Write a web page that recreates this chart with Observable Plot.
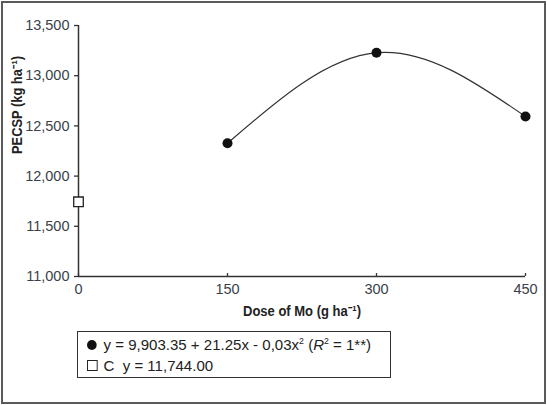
<!DOCTYPE html>
<html><head><meta charset="utf-8">
<script src="https://cdn.jsdelivr.net/npm/d3@7"></script>
<script src="https://cdn.jsdelivr.net/npm/@observablehq/plot@0.6"></script>
<style>
body{margin:0;background:#fff;}
#wrap{position:relative;width:547px;height:405px;overflow:hidden;font-family:"Liberation Sans",Arial,sans-serif;}
#frame{position:absolute;left:1px;top:1px;width:541px;height:399px;border:2px solid #5a5a5a;pointer-events:none;box-sizing:content-box;}
#chart{position:absolute;left:0;top:0;}
#legend{position:absolute;left:77px;top:331px;width:314px;height:47px;border:1.5px solid #333;color:#222;box-sizing:border-box;}
.row{position:absolute;left:9px;white-space:nowrap;font-size:15.5px;transform:scaleX(0.97);transform-origin:0 50%;}
.row sup{font-size:9px;vertical-align:6px;line-height:0;}
.dot{display:inline-block;width:10px;height:10px;border-radius:50%;background:#111;margin-right:7px;vertical-align:0px;}
.sq{display:inline-block;width:9px;height:9px;border:1.3px solid #222;background:#fff;margin-right:6px;vertical-align:0px;}
</style>
</head><body>
<div id="wrap">
  <div id="chart"></div>
  <div id="legend">
    <div class="row" style="top:4px"><span class="dot"></span>y = 9,903.35 + 21.25x - 0,03x<sup>2</sup> (<i>R</i><sup>2</sup> = 1**)</div>
    <div class="row" style="top:25px"><span class="sq"></span>C&nbsp; y = 11,744.00</div>
  </div>
  <div id="frame"></div>
</div>
<script>
const doses = [150, 300, 450];
const pecsp = [12327, 13229, 12594];
const controlDose = [0];
const controlValue = [11744];
const xTicks = [0, 150, 300, 450];
const yTicks = [11000, 11500, 12000, 12500, 13000, 13500];
const yTitle = "PECSP (kg ha\u207B\u00B9)";
const xTitle = "Dose of Mo (g ha\u207B\u00B9)";

const treat = doses.map((d, i) => ({x: d, y: pecsp[i]}));
const control = controlDose.map((d, i) => ({x: d, y: controlValue[i]}));

const font = '"Liberation Sans",Arial,sans-serif';
const H = 320, mT = 25, mB = 44;
const chart = Plot.plot({
  width: 547, height: H,
  marginLeft: 78, marginRight: 22, marginTop: mT, marginBottom: mB,
  style: {fontFamily: font, background: "#fff", color: "#333"},
  x: {domain: [0, 450]},
  y: {domain: [11000, 13500]},
  marks: [
    Plot.axisY({ticks: yTicks, tickSize: 4, tickPadding: 5, tickFormat: d3.format(","), fontSize: 14.5, label: null, stroke: "#333", strokeWidth: 1.3, fill: "#3a3f4a"}),
    Plot.axisX({ticks: xTicks, tickSize: 0, tickPadding: 7, fontSize: 14.5, label: null, fill: "#3a3f4a"}),
    Plot.ruleX(xTicks, {stroke: "#333", strokeWidth: 1.3, insetTop: H - mT - mB - 3}),
    Plot.ruleY([11000], {stroke: "#333", strokeWidth: 1.5}),
    Plot.ruleX([0], {stroke: "#333", strokeWidth: 1.5}),
    Plot.line(treat, {x: "x", y: "y", curve: "natural", stroke: "#333", strokeWidth: 1.2}),
    Plot.dot(treat, {x: "x", y: "y", r: 5, fill: "#111", stroke: "none"}),
    Plot.dot(control, {x: "x", y: "y", symbol: "square", r: 5.4, fill: "#fff", stroke: "#222", strokeWidth: 1.3}),
    Plot.text([yTitle], {frameAnchor: "left", rotate: -90, dx: -61, dy: 3, fontWeight: "bold", fontSize: 14, fill: "#222"}),
    Plot.text([xTitle], {frameAnchor: "bottom", dy: 39, fontWeight: "bold", fontSize: 14, fill: "#222"})
  ]
});
document.getElementById("chart").appendChild(chart);
// condense the bold titles like the reference's narrow typeface
d3.select(chart).selectAll("text").each(function() {
  const t = this.textContent;
  if (t === yTitle) { this.setAttribute("textLength", 98); this.setAttribute("lengthAdjust", "spacingAndGlyphs"); }
  if (t === xTitle) { this.setAttribute("textLength", 118); this.setAttribute("lengthAdjust", "spacingAndGlyphs"); }
});
</script>
</body></html>
